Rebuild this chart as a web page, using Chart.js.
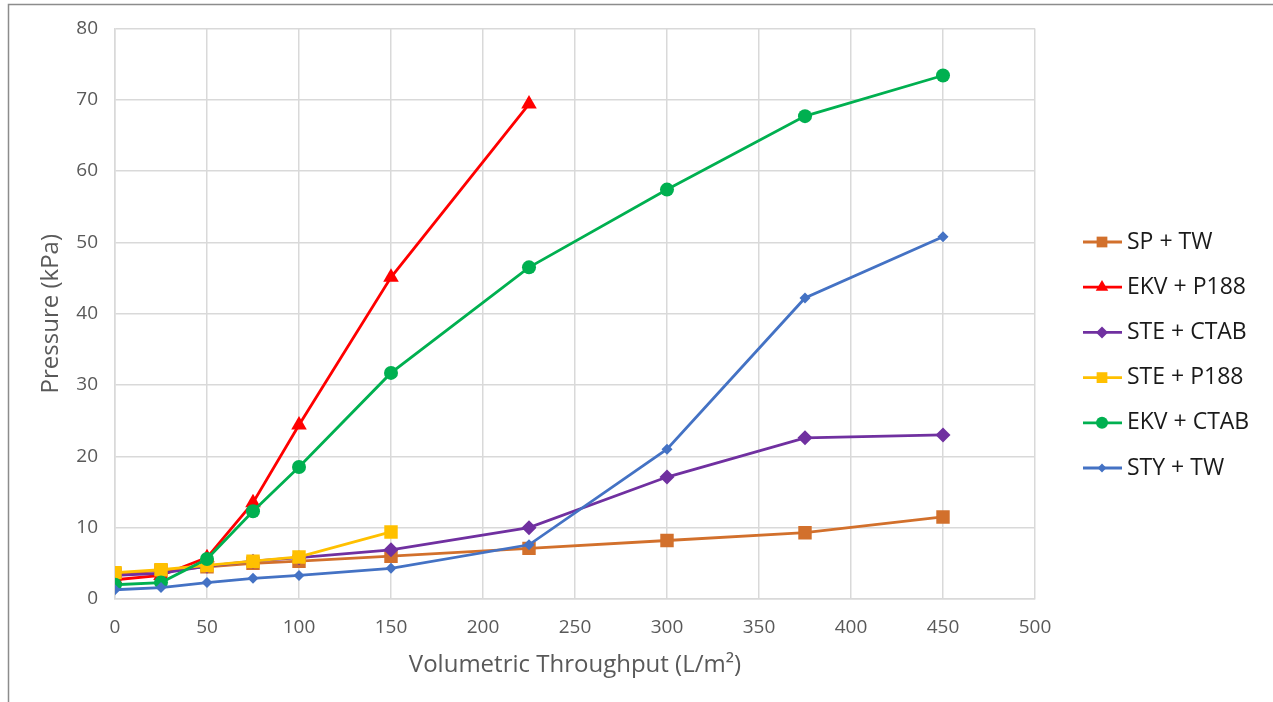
<!DOCTYPE html>
<html>
<head>
<meta charset="utf-8">
<script src="https://cdn.jsdelivr.net/npm/chart.js@4/dist/chart.umd.min.js"></script>
<style>
  html, body { margin: 0; padding: 0; background: #fff; }
  canvas { display: block; }
</style>
</head>
<body>
<canvas id="chart-pressure" width="1273" height="702"></canvas>
<script>
// throughput (L/m2) for each run
var throughputLong = [0, 25, 50, 75, 100, 150, 225, 300, 375, 450];
var throughputRed = [0, 25, 50, 75, 100, 150, 225];
var throughputYellow = [0, 25, 50, 75, 100, 150];

// pressure (kPa)
var spTw = [3.5, 4.0, 4.5, 5.0, 5.3, 6.0, 7.1, 8.2, 9.3, 11.5];
var ekvP188 = [2.7, 3.3, 5.8, 13.5, 24.4, 45.1, 69.4];
var steCtab = [3.3, 3.6, 4.6, 5.3, 5.8, 6.9, 10.0, 17.1, 22.6, 23.0];
var steP188 = [3.7, 4.1, 4.7, 5.3, 5.9, 9.4];
var ekvCtab = [2.0, 2.3, 5.6, 12.3, 18.5, 31.7, 46.5, 57.4, 67.7, 73.4];
var styTw = [1.3, 1.6, 2.3, 2.9, 3.3, 4.3, 7.6, 21.0, 42.2, 50.8];

var xTicks = [0, 50, 100, 150, 200, 250, 300, 350, 400, 450, 500];
var yTicks = [0, 10, 20, 30, 40, 50, 60, 70, 80];

function pts(xs, ys) {
  return ys.map(function(v, i) { return { x: xs[i], y: v }; });
}

var series = [
  { label: "SP + TW", x: throughputLong, y: spTw, color: "#D2702C", style: "rect", r: 9.5 },
  { label: "EKV + P188", x: throughputRed, y: ekvP188, color: "#FF0000", style: "triangle", r: 9 },
  { label: "STE + CTAB", x: throughputLong, y: steCtab, color: "#7030A0", style: "rectRot", r: 7.5 },
  { label: "STE + P188", x: throughputYellow, y: steP188, color: "#FFC000", style: "rect", r: 9.5 },
  { label: "EKV + CTAB", x: throughputLong, y: ekvCtab, color: "#00B050", style: "circle", r: 7 },
  { label: "STY + TW", x: throughputLong, y: styTw, color: "#4472C4", style: "rectRot", r: 5.5 }
];

function drawMarker(ctx, style, x, y, r, color) {
  ctx.save();
  ctx.fillStyle = color;
  ctx.beginPath();
  if (style === "rect") {
    var s = r * Math.SQRT1_2;
    ctx.rect(x - s, y - s, 2 * s, 2 * s);
  } else if (style === "rectRot") {
    ctx.moveTo(x, y - r);
    ctx.lineTo(x + r, y);
    ctx.lineTo(x, y + r);
    ctx.lineTo(x - r, y);
    ctx.closePath();
  } else if (style === "triangle") {
    ctx.moveTo(x, y - r);
    ctx.lineTo(x + r * 0.87, y + r * 0.5);
    ctx.lineTo(x - r * 0.87, y + r * 0.5);
    ctx.closePath();
  } else {
    ctx.arc(x, y, r, 0, Math.PI * 2);
  }
  ctx.fill();
  ctx.restore();
}

var frameAndLegend = {
  id: "frameAndLegend",
  afterDraw: function(chart) {
    var ctx = chart.ctx;
    ctx.save();
    // outer frame (only top and left edges visible)
    ctx.strokeStyle = "#8c8c8c";
    ctx.lineWidth = 1.5;
    ctx.beginPath();
    ctx.moveTo(8.5, 702);
    ctx.lineTo(8.5, 4.5);
    ctx.lineTo(1273, 4.5);
    ctx.stroke();

    // legend: line + marker
    ctx.font = "23px 'Open Sans'";
    ctx.textBaseline = "middle";
    ctx.fillStyle = "#1a1a1a";
    series.forEach(function(s, i) {
      var y = 242 + i * 45.2;
      ctx.strokeStyle = s.color;
      ctx.lineWidth = 2.8;
      ctx.beginPath();
      ctx.moveTo(1083, y);
      ctx.lineTo(1122, y);
      ctx.stroke();
      drawMarker(ctx, s.style, 1102, y, s.style === "circle" ? 6 : s.r * 0.8, s.color);
      ctx.fillText(s.label, 1127, y);
    });
    ctx.restore();
  }
};

var ctx = document.getElementById("chart-pressure").getContext("2d");

var chartPressure = new Chart(ctx, {
  type: "scatter",
  plugins: [frameAndLegend],
  data: {
    datasets: series.map(function(s, i) {
      return {
        label: s.label,
        data: pts(s.x, s.y),
        showLine: true,
        borderColor: s.color,
        backgroundColor: s.color,
        borderWidth: 2.8,
        pointStyle: s.style,
        pointRadius: s.r,
        pointHoverRadius: s.r,
        pointBorderWidth: 0,
        order: series.length - i
      };
    })
  },
  options: {
    responsive: false,
    animation: false,
    layout: { padding: { left: 0, right: 238, top: 28, bottom: 0 } },
    plugins: {
      legend: { display: false },
      tooltip: { enabled: false }
    },
    scales: {
      x: {
        type: "linear",
        min: 0,
        max: 500,
        afterBuildTicks: function(scale) {
          scale.ticks = xTicks.map(function(v) { return { value: v }; });
        },
        afterFit: function(scale) { scale.height = 103; },
        grid: { color: "#d9d9d9", lineWidth: 1.5, drawTicks: false },
        border: { color: "#d9d9d9", width: 1.5 },
        ticks: { padding: 17, color: "#595959", font: { family: "Open Sans", size: 19 } },
        title: {
          display: true,
          text: "Volumetric Throughput (L/m\u00B2)",
          color: "#595959",
          font: { family: "Open Sans", size: 24 },
          padding: { top: 0, bottom: 22 }
        }
      },
      y: {
        type: "linear",
        min: 0,
        max: 80,
        afterBuildTicks: function(scale) {
          scale.ticks = yTicks.map(function(v) { return { value: v }; });
        },
        afterFit: function(scale) { scale.width = 115; },
        grid: { color: "#d9d9d9", lineWidth: 1.5, drawTicks: false },
        border: { color: "#d9d9d9", width: 1.5 },
        ticks: { padding: 17, color: "#595959", font: { family: "Open Sans", size: 19 } },
        title: {
          display: true,
          text: "Pressure (kPa)",
          color: "#595959",
          font: { family: "Open Sans", size: 24 },
          padding: { top: 37, bottom: 0 }
        }
      }
    }
  }
});
</script>
</body>
</html>
